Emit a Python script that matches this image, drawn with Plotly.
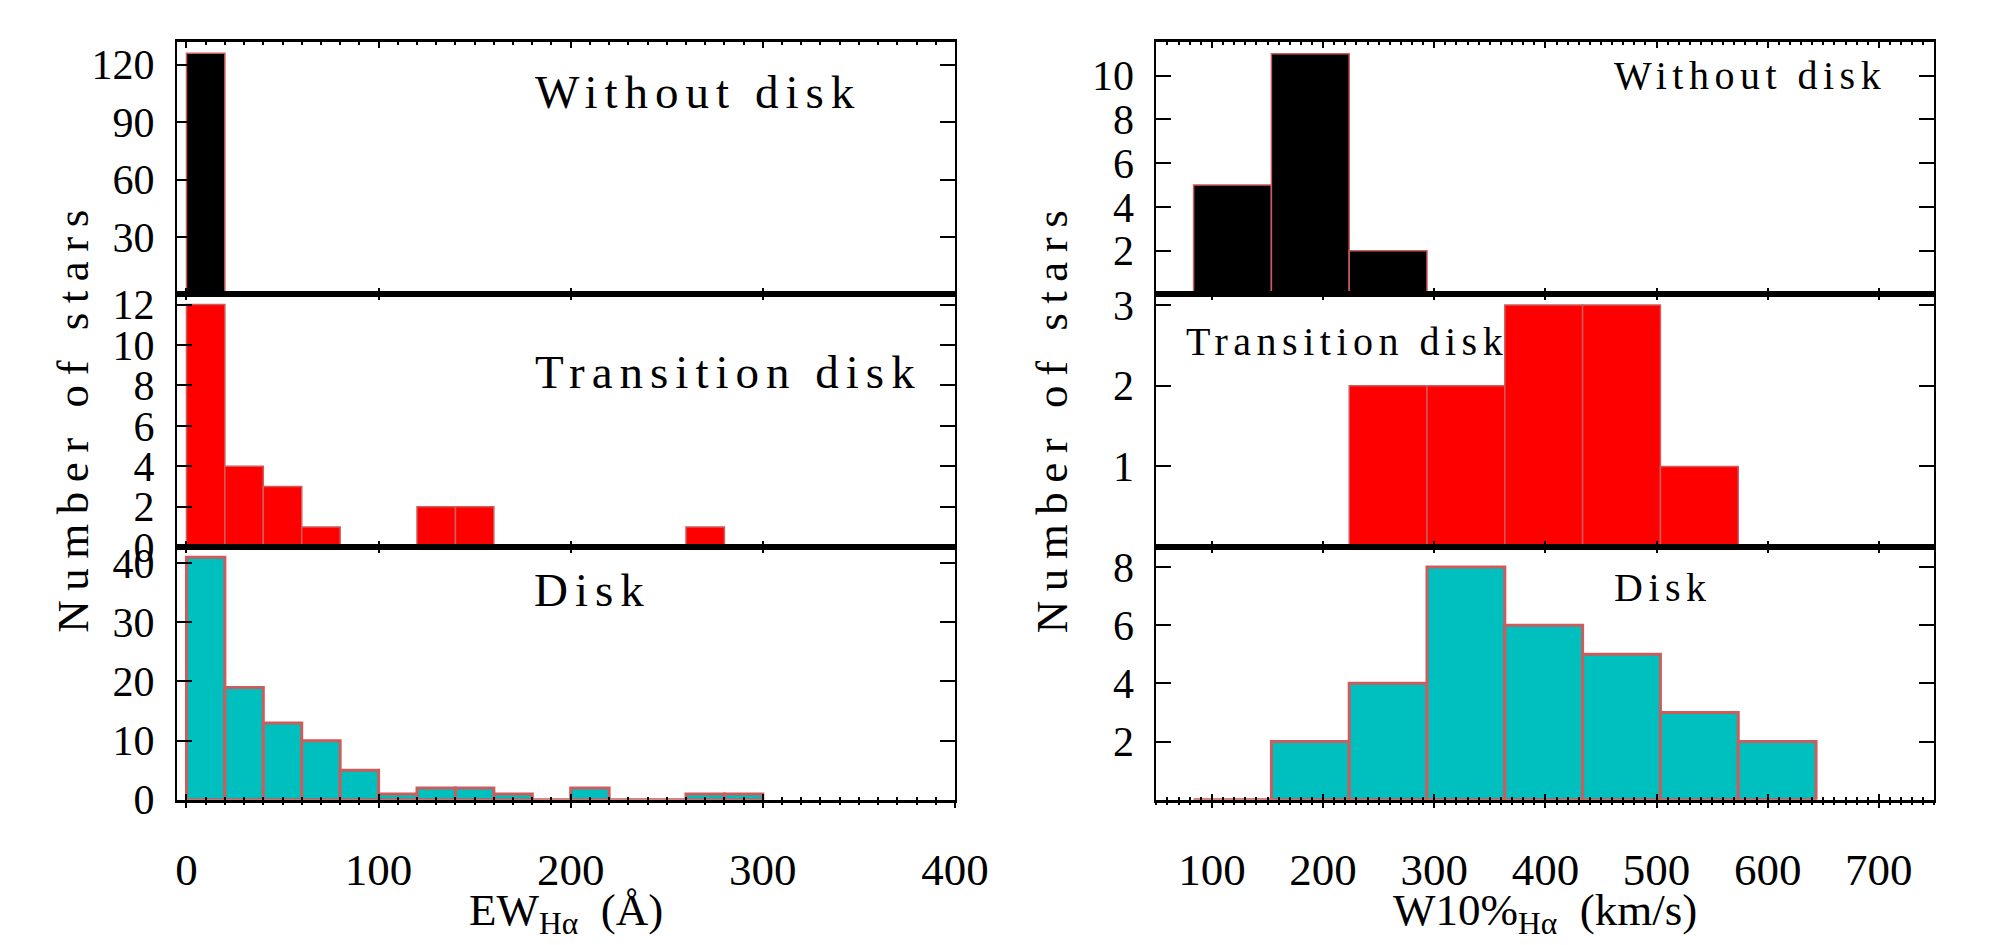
import plotly.graph_objects as go

# ---------------- data ----------------
ew_bin_left = [0, 20, 40, 60, 80, 100, 120, 140, 160, 180, 200, 220, 240, 260, 280]
ew_bin_width = 20
ew_without = [126, 1, 0, 0, 0, 0, 0, 1, 0, 0, 0, 0, 0, 0, 1]
ew_transition = [12, 4, 3, 1, 0, 0, 2, 2, 0, 0, 0, 0, 0, 1, 0]
ew_disk = [41, 19, 13, 10, 5, 1, 2, 2, 1, 0, 2, 0, 0, 1, 1]

w10_bin_left = [83.5, 153.5, 223.5, 293.5, 363.5, 433.5, 503.5, 573.5]
w10_bin_width = 70
w10_without = [5, 11, 2, 0, 0, 0, 0, 0]
w10_transition = [0, 0, 2, 2, 3, 3, 1, 0]
w10_disk = [0, 2, 4, 8, 6, 5, 3, 2]

panel_labels = ["Without disk", "Transition disk", "Disk"]
ew_xticks = [0, 100, 200, 300, 400]
w10_xticks = [100, 200, 300, 400, 500, 600, 700]

FONT = "Liberation Serif"
fill_colors = ["#000000", "#FF0000", "#00BFBF"]
edge_color = "#CD5C5C"
edge_widths = [1.5, 1.5, 3]

fig = go.Figure()

series = [
    ("x", "y", ew_bin_left, ew_bin_width, ew_without, 0),
    ("x2", "y2", ew_bin_left, ew_bin_width, ew_transition, 1),
    ("x3", "y3", ew_bin_left, ew_bin_width, ew_disk, 2),
    ("x4", "y4", w10_bin_left, w10_bin_width, w10_without, 0),
    ("x5", "y5", w10_bin_left, w10_bin_width, w10_transition, 1),
    ("x6", "y6", w10_bin_left, w10_bin_width, w10_disk, 2),
]
for xa, ya, left, w, counts, k in series:
    fig.add_trace(go.Bar(
        x=left, y=counts, width=w, offset=0,
        marker=dict(color=fill_colors[k], line=dict(color=edge_color, width=edge_widths[k])),
        xaxis=xa, yaxis=ya, showlegend=False, hoverinfo="x+y",
    ))

# empty traces that carry the outward bottom ticks of the lowest panels
fig.add_trace(go.Scatter(x=[], y=[], xaxis="x7", yaxis="y3", showlegend=False))
fig.add_trace(go.Scatter(x=[], y=[], xaxis="x8", yaxis="y6", showlegend=False))

# ---------------- layout ----------------
W, H = 1993, 945
xl = [179 / W, 971 / W]
xr = [1176 / W, 1968 / W]
y_bot = [1 - 819 / H, 1 - 556.33 / H]
y_mid = [1 - 556.33 / H, 1 - 293.67 / H]
y_top = [1 - 293.67 / H, 1 - 31 / H]

ytickfont = dict(family=FONT, size=42, color="black")
xtickfont = dict(family=FONT, size=45, color="black")


def xaxis(domain, anchor, rng, tickvals, labels):
    return dict(
        domain=domain, anchor=anchor, range=rng, tickmode="array", tickvals=tickvals,
        ticks="inside", ticklen=6, tickwidth=2, tickcolor="black",
        minor=dict(dtick=10, tick0=0, ticks="inside", ticklen=3, tickwidth=1.5, tickcolor="black"),
        showline=True, linewidth=3, linecolor="black", mirror="allticks",
        showgrid=False, zeroline=False, showticklabels=labels,
        tickfont=xtickfont, ticklabelstandoff=28,
    )


def xaxis_out(overlay, anchor, rng, tickvals):
    return dict(
        overlaying=overlay, anchor=anchor, side="bottom", range=rng,
        tickmode="array", tickvals=tickvals,
        ticks="outside", ticklen=7, tickwidth=2, tickcolor="black",
        minor=dict(dtick=10, tick0=0, ticks="outside", ticklen=4, tickwidth=1.5, tickcolor="black"),
        showline=False, showgrid=False, zeroline=False, showticklabels=False,
    )


def yaxis(domain, anchor, rng, tickvals):
    return dict(
        domain=domain, anchor=anchor, range=rng, tickmode="array", tickvals=tickvals,
        ticks="inside", ticklen=15, tickwidth=2, tickcolor="black",
        showline=True, linewidth=2, linecolor="black", mirror="ticks",
        showgrid=False, zeroline=False, tickfont=ytickfont, ticklabelstandoff=12,
    )


fig.update_layout(
    width=W, height=H, margin=dict(l=0, r=0, t=0, b=0),
    paper_bgcolor="white", plot_bgcolor="white",
    font=dict(family=FONT, color="black"),
    xaxis=xaxis(xl, "y", [-5, 400], ew_xticks, False),
    xaxis2=xaxis(xl, "y2", [-5, 400], ew_xticks, False),
    xaxis3=xaxis(xl, "y3", [-5, 400], ew_xticks, True),
    xaxis4=xaxis(xr, "y4", [50, 750], w10_xticks, False),
    xaxis5=xaxis(xr, "y5", [50, 750], w10_xticks, False),
    xaxis6=xaxis(xr, "y6", [50, 750], w10_xticks, True),
    xaxis7=xaxis_out("x3", "y3", [-5, 400], ew_xticks),
    xaxis8=xaxis_out("x6", "y6", [50, 750], w10_xticks),
    yaxis=yaxis(y_top, "x", [0, 132], [30, 60, 90, 120]),
    yaxis2=yaxis(y_mid, "x2", [0, 12.5], [0, 2, 4, 6, 8, 10, 12]),
    yaxis3=yaxis(y_bot, "x3", [0, 42.7], [0, 10, 20, 30, 40]),
    yaxis4=yaxis(y_top, "x4", [0, 11.55], [2, 4, 6, 8, 10]),
    yaxis5=yaxis(y_mid, "x5", [0, 3.13], [1, 2, 3]),
    yaxis6=yaxis(y_bot, "x6", [0, 8.68], [2, 4, 6, 8]),
)


def spaced(text, px):
    return f"<span style='letter-spacing:{px}px'>{text}</span>"


ann = []
# panel labels
left_pos = [("x domain", "y domain", 0.458, 0.802), ("x2 domain", "y2 domain", 0.458, 0.694),
            ("x3 domain", "y3 domain", 0.457, 0.830)]
right_pos = [("x4 domain", "y4 domain", 0.585, 0.867), ("x5 domain", "y5 domain", 0.036, 0.812),
             ("x6 domain", "y6 domain", 0.585, 0.841)]
for (xr_, yr_, x, y), lab in zip(left_pos, panel_labels):
    ann.append(dict(xref=xr_, yref=yr_, x=x, y=y, xanchor="left", yanchor="middle",
                    text=spaced(lab, 7), showarrow=False, font=dict(family=FONT, size=47, color="black")))
for (xr_, yr_, x, y), lab in zip(right_pos, panel_labels):
    ann.append(dict(xref=xr_, yref=yr_, x=x, y=y, xanchor="left", yanchor="middle",
                    text=spaced(lab, 5.5), showarrow=False, font=dict(family=FONT, size=40, color="black")))

# axis titles
for xpos in (73 / W, 1070 / W):
    ann.append(dict(xref="paper", yref="paper", x=xpos, y=1 - 421 / H, xanchor="center", yanchor="middle",
                    text=spaced("Number of stars", 9.5), textangle=-90, showarrow=False,
                    font=dict(family=FONT, size=45, color="black")))
ann.append(dict(xref="paper", yref="paper", x=575 / W, y=1 - 937 / H, xanchor="center", yanchor="middle",
                text="EW<sub>Hα</sub>  (Å)", showarrow=False, font=dict(family=FONT, size=45, color="black")))
ann.append(dict(xref="paper", yref="paper", x=1572 / W, y=1 - 937 / H, xanchor="center", yanchor="middle",
                text="W10%<sub>Hα</sub>  (km/s)", showarrow=False, font=dict(family=FONT, size=45, color="black")))
fig.update_layout(annotations=ann)

fig.write_html("out.html")
